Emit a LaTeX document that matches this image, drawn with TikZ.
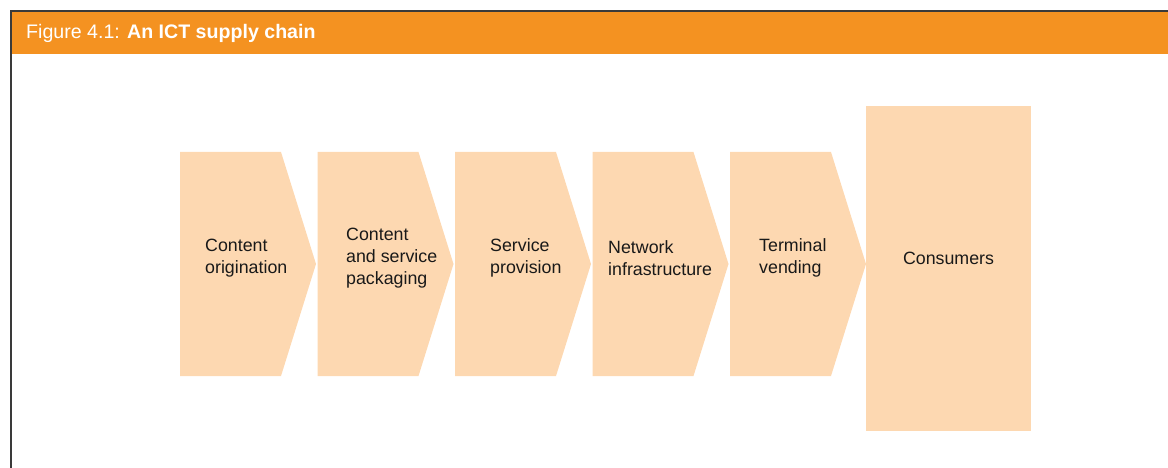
\documentclass[tikz,border=0pt]{standalone}
\usepackage{fontspec}
\setmainfont{Liberation Sans}

\definecolor{bannerorange}{RGB}{244,146,33}
\definecolor{chainfill}{RGB}{253,216,177}
\definecolor{framegray}{RGB}{58,58,58}

\tikzset{
  stage/.style={fill=chainfill, draw=none},
  stagelabel/.style={align=left, inner sep=0pt, text=black!90,
    font=\fontsize{17.8}{22}\selectfont},
}

\begin{document}
\begin{tikzpicture}[x=1pt, y=-1pt]
  \useasboundingbox (0,0) rectangle (1168,468);

  % header bar and frame
  \fill[bannerorange] (10,12) rectangle (1168,54);
  \draw[framegray, line width=1.5pt] (10.75,468) -- (10.75,11.25) -- (1168,11.25);
  \node[anchor=base west, inner sep=0pt, text=white, font=\fontsize{19.6}{22}\selectfont]
    (title) at (26,39) {Figure 4.1: \textbf{An ICT supply chain}};

  % the chain
  \foreach \x/\lx/\name/\txt in {180/205/orig/{Content\\origination},
                                 317.5/346/pack/{Content\\and service\\packaging},
                                 455/490/serv/{Service\\provision},
                                 592.5/608/netw/{Network\\infrastructure},
                                 730/759/term/{Terminal\\vending}} {
    \fill[stage] (\x,152) -- ++(101,0) -- ++(35,112) -- ++(-35,112) -- ++(-101,0) -- cycle;
    \node[stagelabel, anchor=west] (\name) at (\lx,258) {\txt};
  }

  \fill[stage] (866,106) rectangle (1031,431);
  \node[stagelabel] (cons) at (948.5,258) {Consumers};
\end{tikzpicture}
\end{document}
